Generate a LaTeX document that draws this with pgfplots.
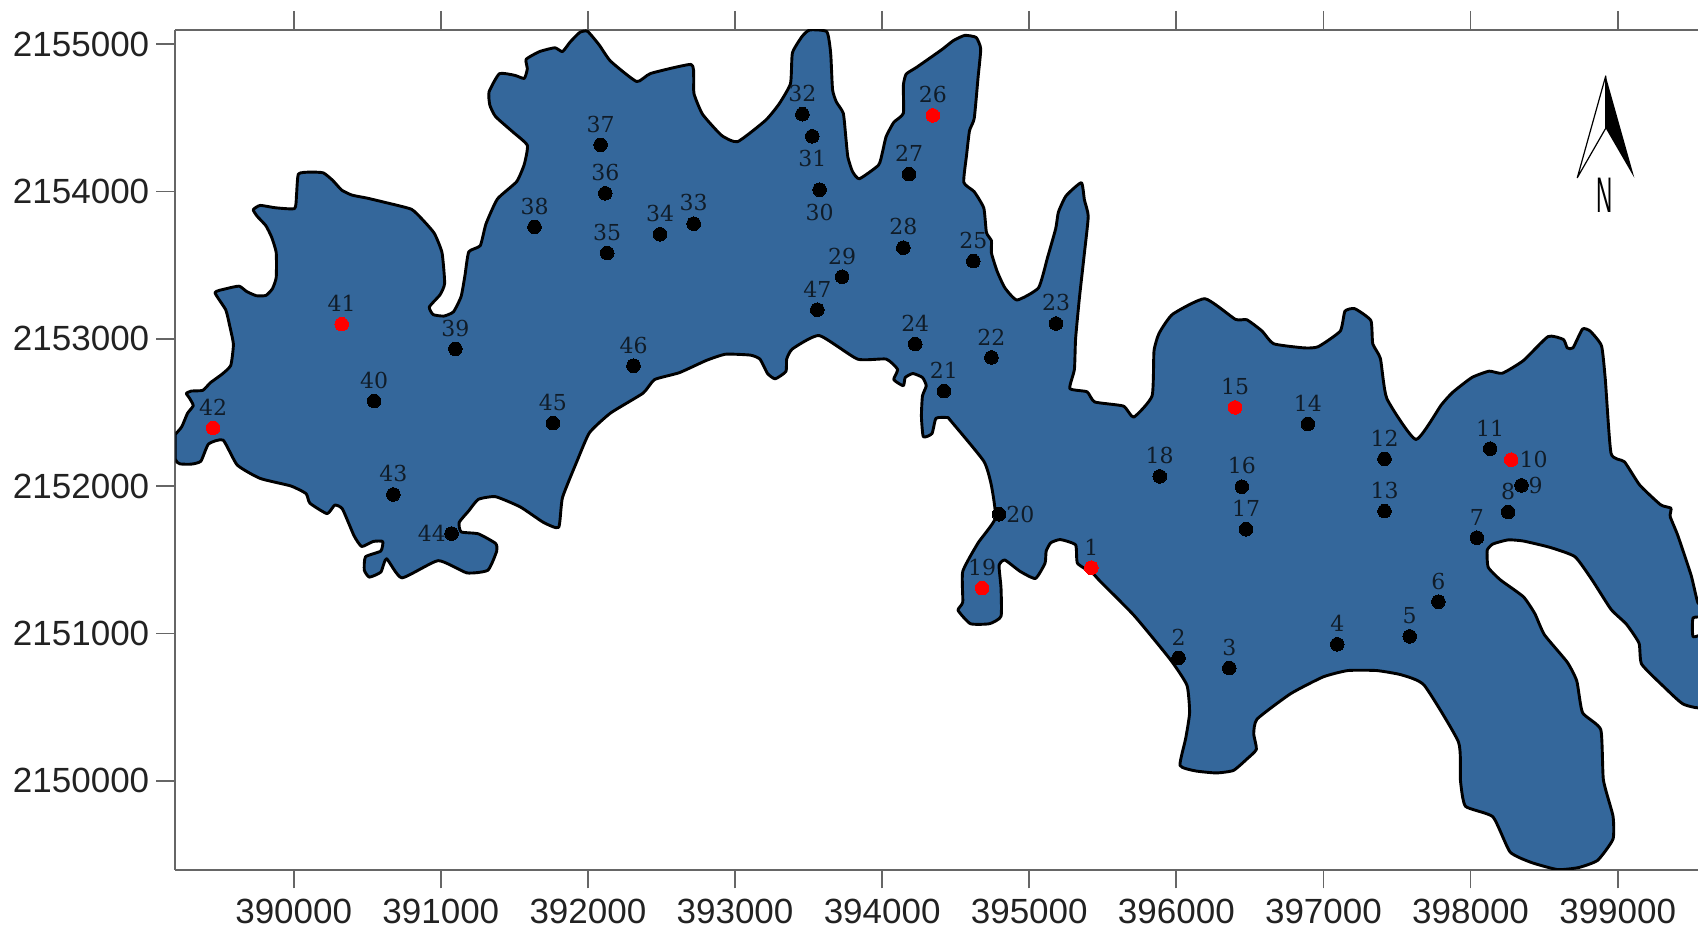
\documentclass[border=0pt]{standalone}
\usepackage{fontspec}
\setmainfont{Liberation Sans}
\newfontfamily\ptfont{DejaVu Serif}
\usepackage{pgfplots}
\usepackage{pgfplotstable}
\pgfplotsset{compat=1.18}
\definecolor{land}{HTML}{34679B}
\definecolor{spine}{HTML}{666666}
\definecolor{ticktext}{HTML}{222222}
\definecolor{ptlabel}{HTML}{101C28}

\pgfplotstableread{
x y
389195 2152352
389239 2152404
389278 2152495
389317 2152547
389291 2152599
389270 2152630
389304 2152646
389382 2152651
389434 2152703
389512 2152760
389572 2152820
389590 2152963
389564 2153093
389538 2153197
389465 2153314
389538 2153340
389629 2153358
389681 2153321
389746 2153293
389811 2153295
389855 2153340
389881 2153417
389881 2153586
389850 2153690
389811 2153768
389751 2153833
389725 2153877
389772 2153906
389876 2153890
390006 2153885
390019 2153976
390032 2154119
390110 2154132
390201 2154127
390266 2154075
390326 2154010
390396 2153976
390501 2153955
390631 2153924
390800 2153880
390878 2153807
390956 2153716
391008 2153586
391026 2153378
390995 2153300
390922 2153217
390948 2153165
391021 2153155
391086 2153184
391138 2153288
391164 2153430
391190 2153591
391268 2153633
391307 2153781
391385 2153950
391515 2154067
391567 2154184
391588 2154314
391489 2154405
391372 2154509
391333 2154587
391328 2154677
391398 2154800
391502 2154789
391567 2154768
391588 2154833
391580 2154898
391671 2154950
391775 2154976
391827 2154950
391879 2155015
391944 2155080
391997 2155088
392076 2154996
392154 2154885
392331 2154747
392427 2154802
392700 2154863
392719 2154775
392721 2154664
392779 2154525
392909 2154381
393018 2154339
393208 2154484
393299 2154594
393377 2154733
393390 2154941
393455 2155052
393507 2155097
393624 2155085
393650 2154941
393663 2154691
393689 2154608
393736 2154531
393754 2154359
393767 2154234
393798 2154137
393845 2154087
393975 2154179
394001 2154262
394027 2154373
394079 2154470
394144 2154531
394144 2154719
394163 2154797
394235 2154844
394405 2154963
394483 2155024
394561 2155060
394639 2155046
394670 2154968
394652 2154774
394626 2154497
394594 2154414
394574 2154248
394555 2154062
394626 2153999
394691 2153888
394709 2153722
394743 2153666
394743 2153583
394782 2153458
394834 2153347
394917 2153264
395063 2153347
395125 2153555
395180 2153749
395198 2153860
395250 2153971
395354 2154060
395375 2153943
395401 2153832
395375 2153583
395341 2153278
395315 2153001
395307 2152793
395276 2152663
395393 2152641
395445 2152572
395640 2152544
395710 2152469
395835 2152613
395848 2152918
395883 2153039
395974 2153167
396194 2153273
396401 2153133
396479 2153130
396583 2153053
396661 2152967
396868 2152939
396964 2152947
397114 2153053
397146 2153188
397213 2153205
397322 2153125
397335 2152967
397387 2152867
397431 2152595
397628 2152317
397801 2152552
397879 2152638
398009 2152738
398126 2152781
398216 2152767
398359 2152853
398527 2153016
398631 2152996
398657 2152939
398696 2152939
398761 2153067
398813 2153053
398890 2152953
398916 2152724
398955 2152223
399046 2152166
399150 2152008
399292 2151874
399362 2151851
399357 2151794
399409 2151665
399500 2151393
399546 2151207
399600 2151200
399600 2151115
399513 2151107
399513 2150978
399600 2150978
399600 2150512
399448 2150520
399318 2150635
399163 2150792
399145 2150935
399059 2151064
398955 2151164
398826 2151364
398709 2151522
398540 2151585
398359 2151628
398255 2151636
398152 2151608
398113 2151565
398120 2151450
398203 2151364
398359 2151250
398437 2151135
398502 2150992
398657 2150806
398722 2150678
398761 2150463
398885 2150348
398903 2150005
398968 2149762
398968 2149604
398864 2149461
398735 2149412
398592 2149398
398411 2149447
398268 2149518
398152 2149756
397965 2149828
397931 2150005
397918 2150263
397685 2150649
397529 2150720
397361 2150749
397166 2150749
396998 2150706
396777 2150592
396549 2150420
396526 2150320
396544 2150214
396479 2150148
396388 2150071
396272 2150054
396129 2150068
396025 2150105
396064 2150291
396090 2150463
396072 2150649
395961 2150821
395714 2151121
395481 2151356
395432 2151408
395328 2151477
395315 2151602
395211 2151638
395146 2151616
395115 2151560
395107 2151477
395042 2151374
394938 2151422
394834 2151499
394795 2151463
394808 2151311
394808 2151117
394730 2151067
394600 2151067
394516 2151158
394548 2151214
394548 2151422
394652 2151615
394769 2151782
394743 2152003
394691 2152170
394464 2152447
394444 2152466
394366 2152461
394339 2152358
394280 2152336
394267 2152475
394274 2152613
394300 2152682
394274 2152738
394209 2152765
394157 2152738
394144 2152682
394079 2152724
394105 2152793
394027 2152863
393832 2152863
393572 2153023
393390 2152932
393351 2152863
393346 2152779
393273 2152729
393221 2152765
393169 2152863
393104 2152890
392935 2152896
392805 2152854
392622 2152771
392453 2152724
392375 2152632
392154 2152497
392011 2152364
391931 2152183
391827 2151923
391801 2151721
391697 2151755
391541 2151859
391372 2151929
391255 2151911
391190 2151833
391125 2151755
391138 2151690
391255 2151677
391372 2151612
391380 2151560
391320 2151430
391177 2151412
390982 2151495
390735 2151378
390631 2151508
390592 2151417
390514 2151383
390480 2151430
390488 2151521
390592 2151560
390605 2151625
390540 2151625
390462 2151591
390410 2151664
390331 2151846
390279 2151872
390227 2151814
390110 2151885
390084 2151950
389980 2152002
389772 2152053
389616 2152144
389520 2152313
389421 2152287
389369 2152170
389304 2152150
389226 2152152
389195 2152183
389195 2152352
}\landtable

\pgfplotstableread{
x y n
396015 2150835 2
396360 2150766 3
397094 2150927 4
397586 2150981 5
397781 2151216 6
398043 2151651 7
398255 2151825 8
398133 2152255 11
397415 2152186 12
397415 2151831 13
396894 2152423 14
396445 2151997 16
396474 2151708 17
395887 2152067 18
394420 2152646 21
394743 2152874 22
395182 2153104 23
394225 2152965 24
394620 2153528 25
394183 2154118 27
394144 2153619 28
393728 2153422 29
393458 2154525 32
392719 2153782 33
392490 2153710 34
392131 2153583 35
392118 2153988 36
392086 2154317 37
391637 2153760 38
391099 2152932 39
390547 2152578 40
390677 2151944 43
391762 2152428 45
392310 2152818 46
393559 2153198 47
}\blackabove

\pgfplotstableread{
x y n
393575 2154012 30
393525 2154375 31
}\blackbelow

\pgfplotstableread{
x y n
398346 2152006 9
394795 2151810 20
}\blackright

\pgfplotstableread{
x y n
391073 2151679 44
}\blackleft

\pgfplotstableread{
x y n
395422 2151447 1
396399 2152535 15
394680 2151308 19
394345 2154517 26
390326 2153100 41
389452 2152396 42
}\redabove

\pgfplotstableread{
x y n
398276 2152180 10
}\redright

\begin{document}
\begin{tikzpicture}[line join=round]
\useasboundingbox (-87.65pt,-30.7pt) rectangle (761.35pt,434.8pt);
\begin{axis}[
  at={(0pt,0pt)}, anchor=south west,
  scale only axis, width=761.35pt, height=419.9pt,
  xmin=389195, xmax=399546, ymin=2149398, ymax=2155098,
  axis x line=box, axis y line=left,
  axis line style={-, draw=spine, line width=1pt},
  tick align=outside, major tick length=9.5pt,
  tick style={draw=spine, line width=0.9pt},
  xtick={390000,391000,392000,393000,394000,395000,396000,397000,398000,399000},
  ytick={2150000,2151000,2152000,2153000,2154000,2155000},
  xtick pos=both, xticklabel pos=bottom,
  scaled ticks=false,
  /pgf/number format/.cd, fixed, precision=0, 1000 sep={}, assume math mode=true,
  /pgfplots/.cd,
  tick label style={font=\fontsize{17.5}{20}\selectfont, text=ticktext},
  x tick label style={yshift=-2pt},
  point meta=explicit symbolic,
  blackpt/.style={only marks, mark=*, mark size=3.4pt, mark options={fill=black, draw=black, line width=0pt},
    nodes near coords},
  redpt/.style={only marks, mark=*, mark size=3.4pt, mark options={fill=red, draw=red, line width=0pt},
    nodes near coords},
  lab/.style={every node near coord/.append style={font=\ptfont\fontsize{11}{13}\selectfont,
    text=ptlabel, inner sep=0pt, #1}},
]
\addplot[fill=land, draw=black, line width=1.45pt, point meta=none, smooth, tension=0.3] table[x=x,y=y] {\landtable} -- cycle;
\addplot[blackpt, lab={anchor=south, yshift=6.2pt}] table[x=x,y=y,meta=n] {\blackabove};
\addplot[blackpt, lab={anchor=north, yshift=-7pt}] table[x=x,y=y,meta=n] {\blackbelow};
\addplot[blackpt, lab={anchor=west, xshift=3.6pt}] table[x=x,y=y,meta=n] {\blackright};
\addplot[blackpt, lab={anchor=east, xshift=-2.9pt}] table[x=x,y=y,meta=n] {\blackleft};
\addplot[redpt, lab={anchor=south, yshift=6.2pt}] table[x=x,y=y,meta=n] {\redabove};
\addplot[redpt, lab={anchor=west, xshift=4.2pt}] table[x=x,y=y,meta=n] {\redright};
\end{axis}
% north arrow
\draw[line width=0.6pt, fill=white] (715.2pt,396.8pt) -- (701pt,345.95pt) -- (715.2pt,370.65pt) -- cycle;
\fill[black] (715.2pt,396.8pt) -- (729.5pt,345.95pt) -- (715.2pt,370.65pt) -- cycle;
\node[inner sep=0pt, xscale=0.45, font=\fontsize{25}{28}\selectfont] at (714.85pt,337.3pt) {N};
\end{tikzpicture}
\end{document}
